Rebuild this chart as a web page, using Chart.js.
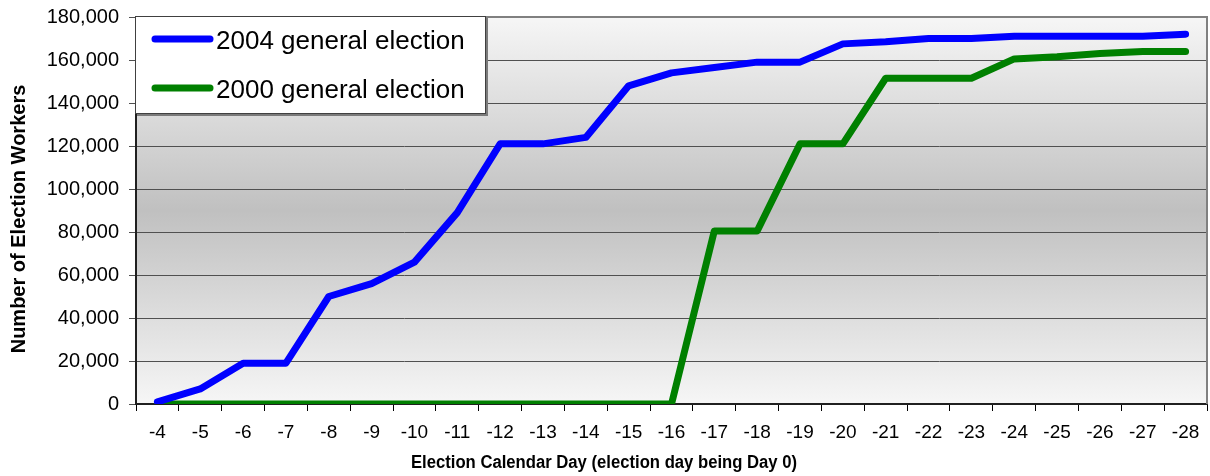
<!DOCTYPE html>
<html>
<head>
<meta charset="utf-8">
<script src="https://cdn.jsdelivr.net/npm/chart.js@4/dist/chart.umd.min.js"></script>
<style>
html,body{margin:0;padding:0;background:#fff;}
#wrap{width:1210px;height:476px;}
</style>
</head>
<body>
<div id="wrap"><canvas id="c" width="1210" height="476"></canvas></div>
<script>
const days = ['-4','-5','-6','-7','-8','-9','-10','-11','-12','-13','-14','-15','-16','-17','-18','-19','-20','-21','-22','-23','-24','-25','-26','-27','-28'];
const workers2004 = [1000,7000,19000,19000,50000,56000,66000,89000,121000,121000,124000,148000,154000,156500,159000,159000,167500,168500,170000,170000,171000,171000,171000,171000,172000];
const workers2000 = [0,0,0,0,0,0,0,0,0,0,0,0,0,80500,80500,121000,121000,151500,151500,151500,160500,161500,163000,164000,164000];
const seriesLabels = ['2004 general election','2000 general election'];
const seriesColors = ['#0000ff','#008000'];
const yTitle = 'Number of Election Workers';
const xTitle = 'Election Calendar Day (election day being Day 0)';

const bgPlugin = {
  id:'bg',
  beforeDraw(chart){
    const {ctx, chartArea:a} = chart;
    const g = ctx.createLinearGradient(0,a.top,0,a.bottom);
    g.addColorStop(0,'#f6f6f6');
    g.addColorStop(0.5,'#c0c0c0');
    g.addColorStop(1,'#f6f6f6');
    ctx.save();
    ctx.fillStyle = g;
    ctx.fillRect(a.left,a.top,a.right-a.left,a.bottom-a.top);
    ctx.restore();
  },
  afterDraw(chart){
    const {ctx, chartArea:a} = chart;
    ctx.save();
    ctx.strokeStyle = '#808080';
    ctx.lineWidth = 2;
    ctx.beginPath();
    ctx.moveTo(a.left, a.top);
    ctx.lineTo(a.right, a.top);
    ctx.lineTo(a.right, a.bottom);
    ctx.stroke();
    // axis titles
    ctx.fillStyle = '#000';
    ctx.textAlign = 'center';
    ctx.textBaseline = 'middle';
    ctx.font = 'bold 18px "Liberation Sans", Arial, sans-serif';
    const tw = ctx.measureText(xTitle).width;
    const sx = 386 / tw;
    ctx.save();
    ctx.translate(604, 463);
    ctx.scale(sx, 1);
    ctx.fillText(xTitle, 0, 0);
    ctx.restore();
    ctx.save();
    ctx.font = 'bold 20px "Liberation Sans", Arial, sans-serif';
    ctx.translate(19, 219);
    ctx.rotate(-Math.PI/2);
    ctx.fillText(yTitle, 0, 0);
    ctx.restore();
    // legend box
    const x0 = 135, y0 = 16, w = 351, h = 98;
    ctx.fillStyle = '#7a7a7a';
    ctx.fillRect(x0+2, y0+2, w, h);
    ctx.fillStyle = '#ffffff';
    ctx.fillRect(x0, y0, w, h);
    ctx.strokeStyle = '#404040';
    ctx.lineWidth = 1;
    ctx.strokeRect(x0+0.5, y0+0.5, w-1, h-1);
    const ys = [39, 88];
    chart.data.datasets.forEach((ds,i)=>{
      ctx.strokeStyle = ds.borderColor;
      ctx.lineWidth = 7;
      ctx.lineCap = 'round';
      ctx.beginPath();
      ctx.moveTo(155, ys[i]);
      ctx.lineTo(210, ys[i]);
      ctx.stroke();
      ctx.fillStyle = '#000';
      ctx.font = '26px "Liberation Sans", Arial, sans-serif';
      ctx.textBaseline = 'middle';
      ctx.textAlign = 'left';
      ctx.fillText(ds.label, 216, ys[i]+3);
    });
    ctx.restore();
  }
};

new Chart(document.getElementById('c'), {
  type:'line',
  data:{
    labels: days,
    datasets:[
      {label: seriesLabels[0], data: workers2004, borderColor: seriesColors[0], backgroundColor: seriesColors[0]},
      {label: seriesLabels[1], data: workers2000, borderColor: seriesColors[1], backgroundColor: seriesColors[1]}
    ]
  },
  options:{
    responsive:false,
    animation:false,
    layout:{padding:{top:17,right:3,left:0,bottom:0}},
    elements:{
      line:{borderWidth:7, tension:0, borderCapStyle:'round', borderJoinStyle:'round', fill:false},
      point:{radius:0, hoverRadius:0}
    },
    plugins:{legend:{display:false}, tooltip:{enabled:false}},
    scales:{
      x:{
        offset:true,
        grid:{offset:true, drawOnChartArea:false, drawTicks:true, tickLength:7, color:'#000'},
        border:{color:'#202020', width:2},
        ticks:{color:'#000', padding:10, maxRotation:0, autoSkip:false, font:{family:'"Liberation Sans", Arial, sans-serif', size:19}},
        title:{display:false, text:xTitle},
        afterFit(s){ s.height = 72; s.paddingLeft = 0; s.paddingRight = 0; }
      },
      y:{
        min:0, max:180000,
        ticks:{stepSize:20000, color:'#000', padding:10, font:{family:'"Liberation Sans", Arial, sans-serif', size:20}},
        grid:{color:'#505050', lineWidth:1, tickLength:7},
        border:{color:'#202020', width:2},
        title:{display:false, text:yTitle},
        afterFit(s){ s.width = 136; s.paddingTop = 0; s.paddingBottom = 0; }
      }
    }
  },
  plugins:[bgPlugin]
});
</script>
</body>
</html>
